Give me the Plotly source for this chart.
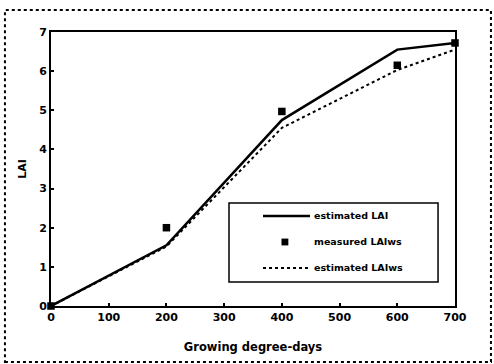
import plotly.graph_objects as go

gdd = [0, 200, 400, 600, 700]
est_lai = [0, 1.55, 4.75, 6.55, 6.72]
meas_gdd = [0, 200, 400, 600, 700]
meas_laiws = [0, 2.0, 4.97, 6.15, 6.72]
est_laiws = [0, 1.52, 4.55, 6.03, 6.55]
x_ticks = [0, 100, 200, 300, 400, 500, 600, 700]
y_ticks = [0, 1, 2, 3, 4, 5, 6, 7]
legend_names = ["estimated LAI", "measured LAIws", "estimated LAIws"]

FAM = "DejaVu Sans"
font = dict(family=FAM, size=11, color="black", weight="bold")

fig = go.Figure()
fig.add_trace(go.Scatter(x=gdd, y=est_lai, mode="lines", name=legend_names[0],
                         line=dict(color="black", width=2.5), cliponaxis=False))
fig.add_trace(go.Scatter(x=meas_gdd, y=meas_laiws, mode="markers", name=legend_names[1],
                         marker=dict(symbol="square", size=7.5, color="black"), cliponaxis=False))
fig.add_trace(go.Scatter(x=gdd, y=est_laiws, mode="lines", name=legend_names[2],
                         line=dict(color="black", width=2, dash="dot"), cliponaxis=False))

# manual legend box (paper coordinates)
lx0, lx1, ly0, ly1 = 0.4406, 0.958, 0.0876, 0.376
rows = [0.3285, 0.2336, 0.1387]
sx0, sx1, smk, tx = 0.5248, 0.641, 0.579, 0.646
shapes = [
    dict(type="rect", xref="paper", yref="paper", x0=-0.114, x1=1.089,
         y0=-0.204, y1=1.08, line=dict(color="black", width=2, dash="dot")),
    dict(type="rect", xref="paper", yref="paper", x0=lx0, x1=lx1, y0=ly0, y1=ly1,
         line=dict(color="black", width=1.5), fillcolor="white", layer="above"),
    dict(type="line", xref="paper", yref="paper", x0=sx0, x1=sx1, y0=rows[0], y1=rows[0],
         line=dict(color="black", width=2.5), layer="above"),
    dict(type="rect", xref="paper", yref="paper", x0=smk - 0.0085, x1=smk + 0.0085,
         y0=rows[1] - 0.0125, y1=rows[1] + 0.0125, line=dict(width=0),
         fillcolor="black", layer="above"),
    dict(type="line", xref="paper", yref="paper", x0=sx0, x1=sx1, y0=rows[2], y1=rows[2],
         line=dict(color="black", width=2, dash="dot"), layer="above"),
]
annotations = [
    dict(xref="paper", yref="paper", x=tx, y=r, text=n, showarrow=False,
         xanchor="left", yanchor="middle",
         font=dict(family=FAM, size=9.5, color="black", weight="bold"))
    for r, n in zip(rows, legend_names)
]

fig.update_layout(
    width=494, height=364,
    margin=dict(l=51, r=39, t=32, b=58),
    paper_bgcolor="white", plot_bgcolor="white",
    font=font,
    showlegend=False,
    xaxis=dict(range=[0, 700], tickvals=x_ticks, showgrid=False, zeroline=False,
               showline=True, linecolor="black", linewidth=2, mirror=True,
               ticks="inside", ticklen=3, tickwidth=1.5, tickcolor="black",
               title=dict(text="Growing degree-days", font=dict(size=11.5), standoff=20)),
    yaxis=dict(range=[0, 7], tickvals=y_ticks, showgrid=False, zeroline=False,
               showline=True, linecolor="black", linewidth=2, mirror=True,
               ticks="inside", ticklen=3, tickwidth=1.5, tickcolor="black",
               title=dict(text="LAI", font=dict(size=11), standoff=10)),
    shapes=shapes,
    annotations=annotations,
)
fig.write_html("out.html", config={"displayModeBar": False},
               post_script="document.body.style.margin='0';")
